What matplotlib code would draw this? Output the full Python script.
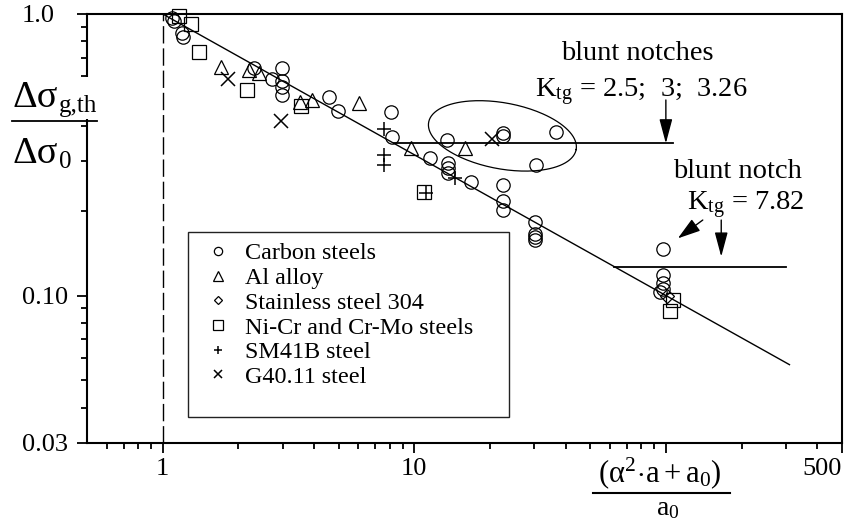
import numpy as np
import matplotlib
matplotlib.use('Agg')
import matplotlib.pyplot as plt
from matplotlib.lines import Line2D
from matplotlib.patches import Rectangle
from matplotlib.ticker import FixedLocator, FixedFormatter, NullFormatter

plt.rcParams['font.family'] = ['Liberation Serif', 'DejaVu Serif']
plt.rcParams['mathtext.fontset'] = 'custom'
plt.rcParams['mathtext.rm'] = 'Liberation Serif'
plt.rcParams['mathtext.it'] = 'Liberation Serif:italic'
plt.rcParams['mathtext.bf'] = 'Liberation Serif:bold'

# ---------------- data ----------------
carbon_x = [1.086, 1.106, 1.195, 1.20, 2.31, 2.73, 2.99, 2.99, 2.99, 2.99,
            4.57, 4.97, 8.10, 8.18, 11.5, 13.5, 13.6, 13.6, 13.6, 16.8,
            22.6, 22.6, 22.6, 22.6, 22.6, 36.6, 30.5, 30.2, 30.2, 30.2, 30.2,
            97.0, 97.0, 97.0, 97.0, 94.6]
carbon_y = [0.968, 0.944, 0.856, 0.829, 0.643, 0.588, 0.641, 0.580, 0.550, 0.516,
            0.506, 0.453, 0.450, 0.366, 0.307, 0.357, 0.295, 0.284, 0.272, 0.254,
            0.379, 0.370, 0.247, 0.217, 0.201, 0.382, 0.291, 0.183, 0.1654, 0.1614, 0.158,
            0.1465, 0.1183, 0.1108, 0.1054, 0.1029]

al_x = [1.70, 2.20, 2.41, 3.51, 3.93, 6.01, 9.70, 15.9]
al_y = [0.650, 0.632, 0.616, 0.488, 0.495, 0.484, 0.333, 0.333]

ss_x = [100.9]
ss_y = [0.0996]

nicr_x = [1.161, 1.292, 1.393, 2.17, 3.55, 10.96, 106.9, 103.7]
nicr_y = [0.984, 0.922, 0.735, 0.537, 0.471, 0.234, 0.0964, 0.0883]

sm_x = [7.55, 7.55, 7.55, 11.16, 14.55]
sm_y = [0.390, 0.316, 0.291, 0.231, 0.261]

g40_x = [1.82, 2.94, 20.3]
g40_y = [0.588, 0.418, 0.359]

fit_x = [1.0, 310.0]
fit_y = [1.0, 0.0568]

notch1_x = [8.3, 107.0]
notch1_y = [0.347, 0.347]
notch2_x = [62.0, 300.0]
notch2_y = [0.1267, 0.1267]

xtick_vals = [1, 10, 100, 500]
xtick_labels = ['1', '10', '', '500']
xminor_vals = [0.6, 0.7, 0.8, 0.9, 2, 3, 4, 5, 6, 7, 8, 9,
               20, 30, 40, 50, 60, 70, 80, 90, 200, 300, 400]
ytick_vals = [0.03, 0.1, 1.0]
ytick_labels = ['0.03', '0.10', '1.0']
yminor_vals = [0.04, 0.05, 0.06, 0.07, 0.08, 0.09,
               0.2, 0.3, 0.4, 0.5, 0.6, 0.7, 0.8, 0.9]

series = [
    ('Carbon steels', carbon_x, carbon_y, 'o', 9.6),
    ('Al alloy', al_x, al_y, '^', 10.5),
    ('Stainless steel 304', ss_x, ss_y, 'D', 7.0),
    ('Ni-Cr and Cr-Mo steels', nicr_x, nicr_y, 's', 10.5),
    ('SM41B steel', sm_x, sm_y, '+', 10.0),
    ('G40.11 steel', g40_x, g40_y, 'x', 10.0),
]

# ---------------- figure ----------------
W, H = 855, 527
L, R, T, B = 87, 841.7, 14, 442.7
fig = plt.figure(figsize=(W / 100, H / 100), dpi=100)
ax = fig.add_axes([L / W, 1 - B / H, (R - L) / W, (B - T) / H])
ax.set_xscale('log')
ax.set_yscale('log')
ax.set_xlim(0.5, 500)
ax.set_ylim(0.03, 1.0)

def fx(px):
    return px / W

def fy(py):
    return 1 - py / H

# dashed vertical line at x = 1
ax.axvline(1.0, color='k', lw=1.0, dashes=(12.5, 3.5), zorder=1)
# fitted line
ax.plot(fit_x, fit_y, color='k', lw=1.0, zorder=2)
# blunt notch levels
ax.plot(notch1_x, notch1_y, color='k', lw=1.3, zorder=2)
ax.plot(notch2_x, notch2_y, color='k', lw=1.3, zorder=2)

handles = []
for name, xs, ys, mk, ms in series:
    if mk in ('+', 'x'):
        h, = ax.plot(xs, ys, linestyle='none', marker=mk, color='k', ms=ms,
                     mew=1.1, label=name, clip_on=False, zorder=3)
    else:
        h, = ax.plot(xs, ys, linestyle='none', marker=mk, mfc='none', mec='k',
                     ms=ms, mew=0.9, label=name, clip_on=False, zorder=3)
    handles.append(h)

# ellipse around blunt-notch points (drawn in pixel space)
fig.canvas.draw()
cx, cy = ax.transData.transform((22.4, 0.369))
t = np.linspace(0, 2 * np.pi, 200)
a_px, b_px, phi = 75.0, 33.0, np.deg2rad(-10.5)
ex = cx + a_px * np.cos(t) * np.cos(phi) - b_px * np.sin(t) * np.sin(phi)
ey = cy + a_px * np.cos(t) * np.sin(phi) + b_px * np.sin(t) * np.cos(phi)
edata = ax.transData.inverted().transform(np.column_stack([ex, ey]))
ax.plot(edata[:, 0], edata[:, 1], color='k', lw=0.9, zorder=2)

# arrows
arrow_kw = dict(arrowstyle='-|>,head_length=0.75,head_width=0.2', color='k',
                lw=1.0, shrinkA=0, shrinkB=0, mutation_scale=20)
ax.annotate('', xy=(100, 0.347), xytext=(100, 0.495), arrowprops=arrow_kw)
ax.annotate('', xy=(166, 0.1374), xytext=(166, 0.1854), arrowprops=arrow_kw)
arrow_kw2 = dict(arrow_kw)
arrow_kw2['arrowstyle'] = '-|>,head_length=0.7,head_width=0.22'
ax.annotate('', xy=(111.6, 0.1596), xytext=(140.2, 0.1854), arrowprops=arrow_kw2)

# annotation texts
ax.text(76.7, 0.687, 'blunt notches', fontsize=20.5, ha='center', va='baseline')
ax.text(30.2, 0.507, r'K$_{\mathrm{tg}}$ = 2.5;  3;  3.26', fontsize=20.5,
        ha='left', va='baseline')
ax.text(106.6, 0.261, 'blunt notch', fontsize=20.5, ha='left', va='baseline')
ax.text(121.2, 0.201, r'K$_{\mathrm{tg}}$ = 7.82', fontsize=20.5,
        ha='left', va='baseline')

# ticks
ax.xaxis.set_major_locator(FixedLocator(xtick_vals))
ax.xaxis.set_major_formatter(FixedFormatter(xtick_labels))
ax.xaxis.set_minor_locator(FixedLocator(xminor_vals))
ax.xaxis.set_minor_formatter(NullFormatter())
ax.yaxis.set_major_locator(FixedLocator(ytick_vals))
ax.yaxis.set_major_formatter(FixedFormatter(ytick_labels))
ax.yaxis.set_minor_locator(FixedLocator(yminor_vals))
ax.yaxis.set_minor_formatter(NullFormatter())
ax.tick_params(which='major', direction='out', length=7, width=1.3,
               labelsize=19, pad=4)
ax.tick_params(which='minor', direction='out', length=4.5, width=1.3)
ax.tick_params(axis='y', which='major', pad=39.8)
for s in ax.spines.values():
    s.set_linewidth(1.5)

fig.canvas.draw()
plt.setp(ax.get_yticklabels(), ha='left')
xl = ax.get_xticklabels()
xl[3].set_ha('right')

# legend
leg = ax.legend(handles=handles, loc='upper left',
                bbox_to_anchor=(fx(206), fy(242.5)), bbox_transform=fig.transFigure,
                frameon=False, fontsize=17.4, markerscale=0.62, handlelength=1.0,
                handletextpad=0.6, labelspacing=0.115, borderpad=0,
                borderaxespad=0)
fig.add_artist(Rectangle((fx(187.7), fy(416.5)), (509.3 - 187.7) / W, (416.5 - 232) / H,
                         transform=fig.transFigure, fill=False, ec='#222222', lw=1.0))

# y label as a fraction
fig.add_artist(Rectangle((fx(10), fy(119)), 90 / W, 42 / H, transform=fig.transFigure,
                         fc='white', ec='none', zorder=3.5))
num = fig.text(fx(12), fy(107), 'Δσ', fontsize=27.5, ha='left', va='baseline',
               zorder=4)
den = fig.text(fx(12), fy(163), 'Δσ', fontsize=27.5, ha='left', va='baseline',
               zorder=4)
fig.canvas.draw()
rend = fig.canvas.get_renderer()
num_r = num.get_window_extent(rend).x1
den_r = den.get_window_extent(rend).x1
fig.text((num_r + 1) / W, fy(112), 'g,th', fontsize=18, ha='left', va='baseline',
         zorder=4)
fig.text((den_r + 2) / W, fy(168), '0', fontsize=18, ha='left', va='baseline',
         zorder=4)
fig.add_artist(Line2D([fx(11.7), fx(97)], [fy(120.7), fy(120.7)], color='k',
                      lw=1.3, zorder=5))

# x label as a fraction
fig.text(fx(660), fy(482), r'$\mathrm{(α^{2}\!\cdot\! a+a_{0})}$', fontsize=22,
         ha='center', va='baseline')
fig.text(fx(667.5), fy(515), r'$\mathrm{a_{0}}$', fontsize=20, ha='center',
         va='baseline')
fig.add_artist(Line2D([fx(593), fx(730)], [fy(493.3), fy(493.3)], color='k',
                      lw=1.5, zorder=5))

fig.savefig('out.png', dpi=100)
